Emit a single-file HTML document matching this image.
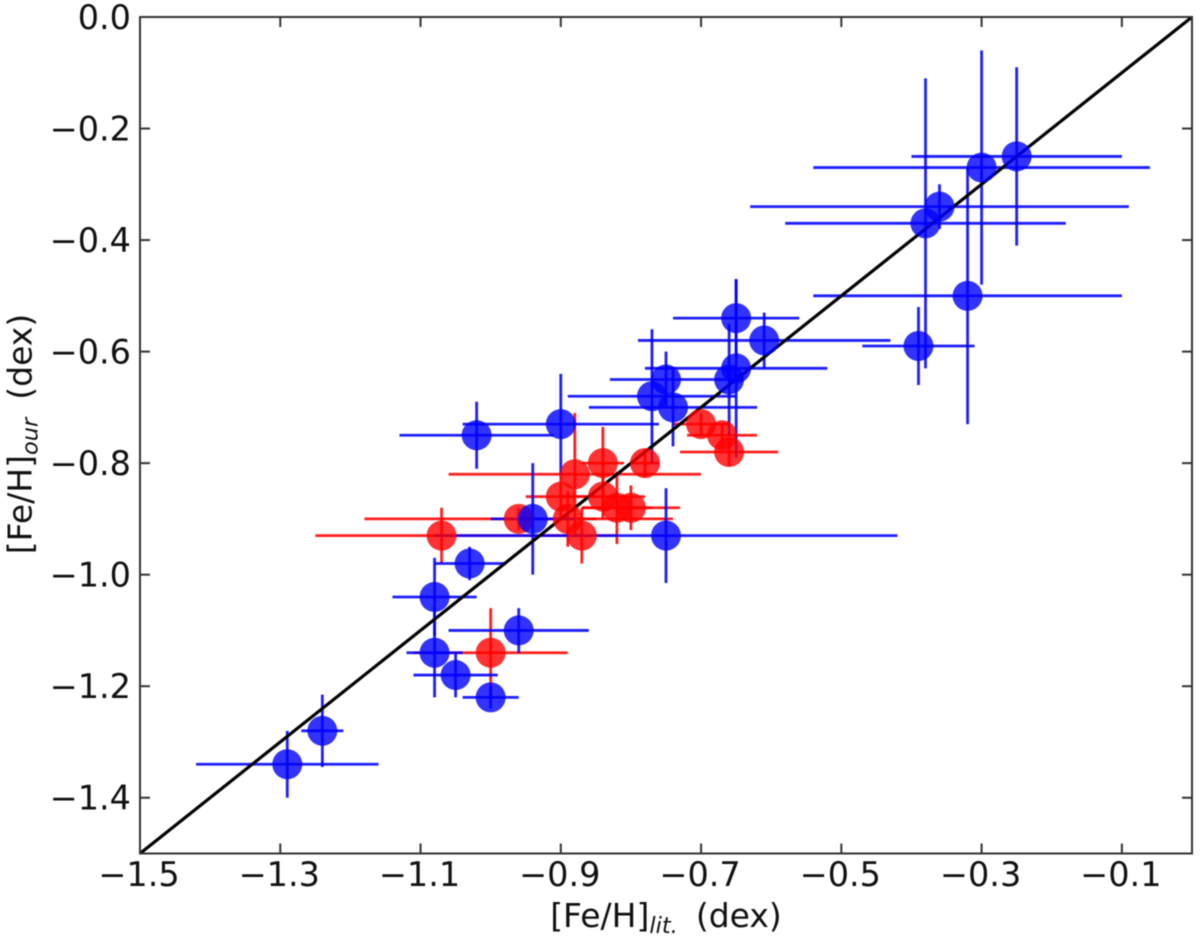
<!DOCTYPE html>
<html>
<head>
<meta charset="utf-8">
<title>Metallicity comparison chart</title>
<style>
html,body{margin:0;padding:0;background:#fff;}
svg{display:block;filter:blur(0.5px);}
text{font-family:"DejaVu Sans","Liberation Sans",sans-serif;fill:#111;}
</style>
</head>
<body>
<svg id="chart" xmlns="http://www.w3.org/2000/svg" width="1200" height="939" viewBox="0 0 1200 939">
  <g id="lines-red"></g>
  <g id="lines-blue"></g>
  <g id="identity"></g>
  <g id="dots-red"></g>
  <g id="dots-blue"></g>
  <g id="axes"></g>
  <text x="666" y="927" text-anchor="middle" font-size="33">[Fe/H]<tspan font-style="italic" font-size="22.5" dy="6">lit.</tspan><tspan dy="-6" dx="18">(dex)</tspan></text>
  <text transform="translate(31.5,434) rotate(-90)" text-anchor="middle" font-size="33">[Fe/H]<tspan font-style="italic" font-size="22.5" dy="6">our</tspan><tspan dy="-6" dx="18">(dex)</tspan></text>
</svg>
<script>
const blueX    = [-1.29,-1.24,-1.00,-1.05,-1.08,-1.08,-0.96,-1.03,-0.94,-0.75,-1.02,-0.90,-0.77,-0.75,-0.74,-0.66,-0.61,-0.65,-0.65,-0.39,-0.32,-0.38,-0.36,-0.30,-0.25];
const blueY    = [-1.34,-1.28,-1.22,-1.18,-1.14,-1.04,-1.10,-0.98,-0.90,-0.93,-0.75,-0.73,-0.68,-0.65,-0.70,-0.65,-0.58,-0.54,-0.63,-0.59,-0.50,-0.37,-0.34,-0.27,-0.25];
const blueXerr = [0.13,0.03,0.04,0.06,0.04,0.06,0.10,0.05,0.06,0.33,0.11,0.14,0.12,0.08,0.12,0.02,0.18,0.09,0.13,0.08,0.22,0.20,0.27,0.24,0.15];
const blueYerr = [0.06,0.065,0.02,0.04,0.08,0.07,0.04,0.03,0.10,0.085,0.06,0.09,0.12,0.05,0.07,0.10,0.05,0.07,0.16,0.07,0.23,0.26,0.04,0.21,0.16];

const redX     = [-1.07,-0.96,-1.00,-0.88,-0.84,-0.78,-0.70,-0.67,-0.66,-0.90,-0.89,-0.87,-0.84,-0.82,-0.80];
const redY     = [-0.93,-0.90,-1.14,-0.82,-0.80,-0.80,-0.73,-0.75,-0.78,-0.86,-0.90,-0.93,-0.86,-0.88,-0.88];
const redXerr  = [0.18,0.22,0.11,0.18,0.03,0.02,0.04,0.05,0.07,0.05,0.04,0.05,0.06,0.05,0.07];
const redYerr  = [0.05,0.02,0.08,0.11,0.065,0.025,0.02,0.02,0.025,0.04,0.05,0.05,0.04,0.065,0.04];

const identityX = [-1.5, 0.0];
const identityY = [-1.5, 0.0];

const xTicks = [-1.5,-1.3,-1.1,-0.9,-0.7,-0.5,-0.3,-0.1];
const xTickLabels = ["\u22121.5","\u22121.3","\u22121.1","\u22120.9","\u22120.7","\u22120.5","\u22120.3","\u22120.1"];
const yTicks = [0,-0.2,-0.4,-0.6,-0.8,-1.0,-1.2,-1.4];
const yTickLabels = ["0.0","\u22120.2","\u22120.4","\u22120.6","\u22120.8","\u22121.0","\u22121.2","\u22121.4"];

const plotLeft = 140, plotRight = 1192, plotTop = 17, plotBottom = 853.5;
const xMin = -1.5, xMax = 0, yMin = -1.5, yMax = 0;
function xScale(v){ return plotLeft + (v - xMin) / (xMax - xMin) * (plotRight - plotLeft); }
function yScale(v){ return plotBottom - (v - yMin) / (yMax - yMin) * (plotBottom - plotTop); }

const NS = "http://www.w3.org/2000/svg";
function make(tag, props, parent){
  const el = document.createElementNS(NS, tag);
  for (const k in props) el.setAttribute(k, props[k]);
  parent.appendChild(el);
  return el;
}

function drawBars(group, xs, ys, xe, ye, color, label){
  xs.forEach(function(x, i){
    const h = make("line", {x1:xScale(x - xe[i]), x2:xScale(x + xe[i]), y1:yScale(ys[i]), y2:yScale(ys[i]), stroke:color, "stroke-width":2.8, "stroke-opacity":0.88}, group);
    
    
    const v = make("line", {x1:xScale(x), x2:xScale(x), y1:yScale(ys[i] - ye[i]), y2:yScale(ys[i] + ye[i]), stroke:color, "stroke-width":2.8, "stroke-opacity":0.88}, group);
    
    
  });
}
function drawDots(group, xs, ys, color, label){
  xs.forEach(function(x, i){
    const c = make("circle", {cx:xScale(x), cy:yScale(ys[i]), r:15, fill:color, "fill-opacity":0.8}, group);
    
    
  });
}

drawBars(document.getElementById("lines-red"), redX, redY, redXerr, redYerr, "#ff0000", "red");
drawBars(document.getElementById("lines-blue"), blueX, blueY, blueXerr, blueYerr, "#0000ff", "blue");

const identityLine = make("line", {x1:xScale(identityX[0]), y1:yScale(identityY[0]), x2:xScale(identityX[1]), y2:yScale(identityY[1]), stroke:"#000", "stroke-width":3.2}, document.getElementById("identity"));



drawDots(document.getElementById("dots-red"), redX, redY, "#ff0000", "red");
drawDots(document.getElementById("dots-blue"), blueX, blueY, "#0000ff", "blue");

const axes = document.getElementById("axes");
const frame = make("rect", {x:plotLeft, y:plotTop, width:plotRight - plotLeft, height:plotBottom - plotTop, fill:"none", stroke:"#333", "stroke-width":2}, axes);



xTicks.forEach(function(t, i){
  const x = xScale(t);
  const b = make("line", {x1:x, x2:x, y1:plotBottom, y2:plotBottom - 10, stroke:"#333", "stroke-width":2}, axes);
  
  
  const u = make("line", {x1:x, x2:x, y1:plotTop, y2:plotTop + 10, stroke:"#333", "stroke-width":2}, axes);
  
  
  const l = make("text", {x:x - 1, y:886, "text-anchor":"middle", "font-size":33.5}, axes);
  
  
  l.textContent = xTickLabels[i];
});
yTicks.forEach(function(t, i){
  const y = yScale(t);
  const a = make("line", {x1:plotLeft, x2:plotLeft + 10, y1:y, y2:y, stroke:"#333", "stroke-width":2}, axes);
  
  
  const r = make("line", {x1:plotRight, x2:plotRight - 10, y1:y, y2:y, stroke:"#333", "stroke-width":2}, axes);
  
  
  const l = make("text", {x:131, y:y + 12, "text-anchor":"end", "font-size":33.5}, axes);
  
  
  l.textContent = yTickLabels[i];
});
</script>
</body>
</html>
